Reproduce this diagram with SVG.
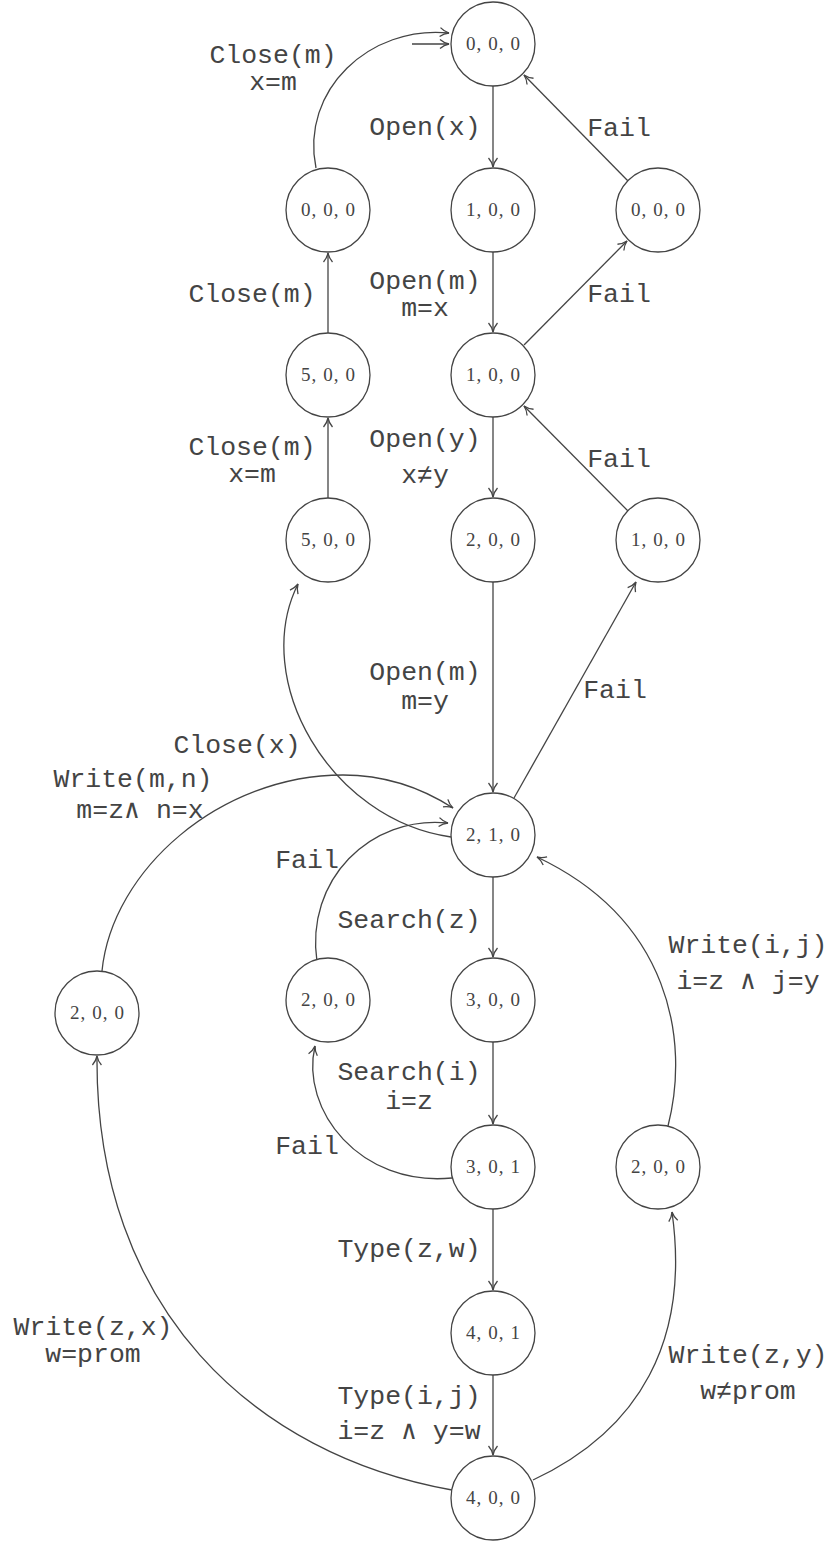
<svg xmlns="http://www.w3.org/2000/svg" width="833" height="1544" viewBox="0 0 833 1544">
<style>
.node circle{fill:#fff;stroke:#444;stroke-width:1.3}
.node text{font-family:"Liberation Serif","DejaVu Serif",serif;font-size:19px;fill:#444;text-anchor:middle}
.edges path{fill:none;stroke:#444;stroke-width:1.3;marker-end:url(#arr)}
.lbl{font-family:"Liberation Mono","DejaVu Sans Mono",monospace;font-size:26.5px;fill:#444;text-anchor:middle}
</style>
<defs>
<marker id="arr" viewBox="0 0 12 12" refX="11" refY="6" markerWidth="12" markerHeight="12" markerUnits="userSpaceOnUse" orient="auto">
<path d="M2,1.5 Q6,5 11,6 Q6,7 2,10.5" fill="none" stroke="#444" stroke-width="1.3"/>
</marker>
</defs>
<rect width="833" height="1544" fill="#fff"/>
<g class="edges" id="edges">
<path d="M412,44 L449,44"/>
<path d="M316,168 C300,90 370,25 449,33"/>
<path d="M493,86 L493,167"/>
<path d="M628,181 L524,75"/>
<path d="M493,252 L493,332"/>
<path d="M524,345 L627,241"/>
<path d="M328,333 L328,253"/>
<path d="M328,498 L328,418"/>
<path d="M493,417 L493,497"/>
<path d="M628,511 L524,406"/>
<path d="M493,582 L493,792"/>
<path d="M514,798 L636,582"/>
<path d="M451,837 C330,820 250,680 298,584"/>
<path d="M102,971 C112,870 220,775 343,775 C390,775 425,790 453,808"/>
<path d="M317,962 C305,880 370,815 448,823"/>
<path d="M493,877 L493,957"/>
<path d="M493,1042 L493,1124"/>
<path d="M452,1178 C360,1187 300,1110 315,1046"/>
<path d="M493,1209 L493,1290"/>
<path d="M493,1375 L493,1455"/>
<path d="M668,1126 C690,1040 670,920 537,857"/>
<path d="M452,1490 C255,1455 95,1310 97,1056"/>
<path d="M533,1480 C640,1430 690,1340 672,1212"/>
</g>
<g id="n1" class="node"><circle cx="493" cy="44" r="42"/><text x="493" y="50" textLength="54" lengthAdjust="spacing">0, 0, 0</text></g>
<g id="n2" class="node"><circle cx="328" cy="210" r="42"/><text x="328" y="216" textLength="54" lengthAdjust="spacing">0, 0, 0</text></g>
<g id="n3" class="node"><circle cx="493" cy="210" r="42"/><text x="493" y="216" textLength="54" lengthAdjust="spacing">1, 0, 0</text></g>
<g id="n4" class="node"><circle cx="658" cy="210" r="42"/><text x="658" y="216" textLength="54" lengthAdjust="spacing">0, 0, 0</text></g>
<g id="n5" class="node"><circle cx="328" cy="375" r="42"/><text x="328" y="381" textLength="54" lengthAdjust="spacing">5, 0, 0</text></g>
<g id="n6" class="node"><circle cx="493" cy="375" r="42"/><text x="493" y="381" textLength="54" lengthAdjust="spacing">1, 0, 0</text></g>
<g id="n7" class="node"><circle cx="328" cy="540" r="42"/><text x="328" y="546" textLength="54" lengthAdjust="spacing">5, 0, 0</text></g>
<g id="n8" class="node"><circle cx="493" cy="540" r="42"/><text x="493" y="546" textLength="54" lengthAdjust="spacing">2, 0, 0</text></g>
<g id="n9" class="node"><circle cx="658" cy="540" r="42"/><text x="658" y="546" textLength="54" lengthAdjust="spacing">1, 0, 0</text></g>
<g id="n10" class="node"><circle cx="493" cy="835" r="42"/><text x="493" y="841" textLength="54" lengthAdjust="spacing">2, 1, 0</text></g>
<g id="n11" class="node"><circle cx="97" cy="1013" r="42"/><text x="97" y="1019" textLength="54" lengthAdjust="spacing">2, 0, 0</text></g>
<g id="n12" class="node"><circle cx="328" cy="1000" r="42"/><text x="328" y="1006" textLength="54" lengthAdjust="spacing">2, 0, 0</text></g>
<g id="n13" class="node"><circle cx="493" cy="1000" r="42"/><text x="493" y="1006" textLength="54" lengthAdjust="spacing">3, 0, 0</text></g>
<g id="n14" class="node"><circle cx="493" cy="1167" r="42"/><text x="493" y="1173" textLength="54" lengthAdjust="spacing">3, 0, 1</text></g>
<g id="n15" class="node"><circle cx="658" cy="1167" r="42"/><text x="658" y="1173" textLength="54" lengthAdjust="spacing">2, 0, 0</text></g>
<g id="n16" class="node"><circle cx="493" cy="1333" r="42"/><text x="493" y="1339" textLength="54" lengthAdjust="spacing">4, 0, 1</text></g>
<g id="n17" class="node"><circle cx="493" cy="1498" r="42"/><text x="493" y="1504" textLength="54" lengthAdjust="spacing">4, 0, 0</text></g>
<g id="labels">
<text class="lbl" x="273" y="63">Close(m)</text>
<text class="lbl" x="273" y="90">x=m</text>
<text class="lbl" x="425" y="135">Open(x)</text>
<text class="lbl" x="619" y="136">Fail</text>
<text class="lbl" x="425" y="289">Open(m)</text>
<text class="lbl" x="425" y="316">m=x</text>
<text class="lbl" x="619" y="302">Fail</text>
<text class="lbl" x="252" y="302">Close(m)</text>
<text class="lbl" x="252" y="455">Close(m)</text>
<text class="lbl" x="252" y="482">x=m</text>
<text class="lbl" x="425" y="447">Open(y)</text>
<text class="lbl" x="425" y="483">x≠y</text>
<text class="lbl" x="619" y="467">Fail</text>
<text class="lbl" x="425" y="680">Open(m)</text>
<text class="lbl" x="425" y="709">m=y</text>
<text class="lbl" x="615" y="698">Fail</text>
<text class="lbl" x="237" y="753">Close(x)</text>
<text class="lbl" x="133" y="787">Write(m,n)</text>
<text class="lbl" x="140" y="818">m=z∧ n=x</text>
<text class="lbl" x="307" y="868">Fail</text>
<text class="lbl" x="409" y="928">Search(z)</text>
<text class="lbl" x="748" y="953">Write(i,j)</text>
<text class="lbl" x="748" y="989">i=z ∧ j=y</text>
<text class="lbl" x="409" y="1080">Search(i)</text>
<text class="lbl" x="409" y="1109">i=z</text>
<text class="lbl" x="307" y="1154">Fail</text>
<text class="lbl" x="409" y="1257">Type(z,w)</text>
<text class="lbl" x="93" y="1335">Write(z,x)</text>
<text class="lbl" x="93" y="1362">w=prom</text>
<text class="lbl" x="748" y="1363">Write(z,y)</text>
<text class="lbl" x="748" y="1399">w≠prom</text>
<text class="lbl" x="409" y="1404">Type(i,j)</text>
<text class="lbl" x="409" y="1439">i=z ∧ y=w</text>
</g>
</svg>
